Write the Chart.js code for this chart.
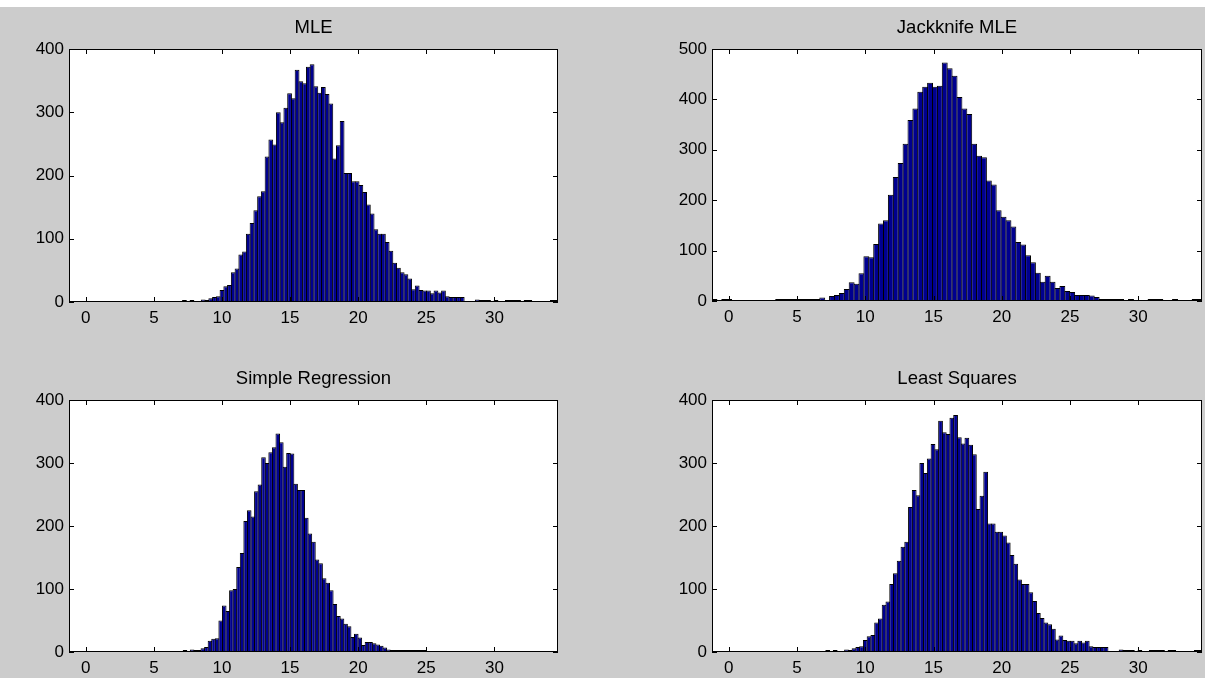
<!DOCTYPE html>
<html><head><meta charset="utf-8">
<script src="https://cdn.jsdelivr.net/npm/chart.js@4.4.0/dist/chart.umd.min.js"></script>
<style>
html,body{margin:0;padding:0;}
body{width:1205px;height:678px;background:#cccccc;position:relative;overflow:hidden;}
#topstrip{position:absolute;left:0;top:0;width:1205px;height:7px;background:#ffffff;}
canvas{position:absolute;}
</style></head><body>
<div id="topstrip"></div>
<canvas id="c1"></canvas><canvas id="c2"></canvas><canvas id="c3"></canvas><canvas id="c4"></canvas>
<script>
// ---------- data ----------
const titles = ["MLE", "Jackknife MLE", "Simple Regression", "Least Squares"];
const xTickLabels = [0, 5, 10, 15, 20, 25, 30];
const yTickLabelsA = [0, 100, 200, 300, 400];
const yTickLabelsB = [0, 100, 200, 300, 400, 500];
const xRange = [-1.23, 34.67];

// MLE: 100 bins
const mleBinStart = 7.108, mleBinWidth = 0.2756;
const mleCounts = [1,0,3,0,0,4,2,6,8,9,19,25,27,47,53,75,80,108,125,145,167,175,230,257,249,300,284,307,330,322,367,349,346,372,376,341,331,340,329,314,227,248,286,204,204,191,191,185,174,154,140,115,108,108,95,81,62,54,47,44,37,20,26,19,18,18,14,18,15,18,9,8,8,8,8,0,0,0,4,1,1,1,0,1,0,0,1,1,1,1,0,1,1,0,0,0,0,0,2,2];

// Jackknife MLE: 100 bins
const jackBinStart = -1.23, jackBinWidth = 0.359;
const jackCounts = [2,0,1,1,0,0,0,0,0,0,0,0,0,1,2,1,2,1,2,1,1,4,7,0,10,12,16,24,37,34,55,89,87,113,154,160,211,246,274,312,359,382,415,425,433,425,427,473,462,447,405,382,371,312,288,285,239,231,180,167,160,148,117,112,91,77,56,38,50,38,26,30,20,18,12,12,12,11,8,3,3,3,3,3,0,1,0,0,0,1,1,1,0,0,1,0,0,0,1,1];

// Simple Regression: 100 bins
const regBinStart = -1.23, regBinWidth = 0.262;
const regCounts = [0,0,0,0,0,0,0,0,0,0,0,0,0,0,0,0,0,0,0,0,0,0,0,0,0,0,0,0,0,0,0,0,2,0,4,3,3,6,8,18,21,22,50,74,65,98,100,135,157,208,225,215,255,266,309,300,317,325,347,333,294,316,315,267,257,257,213,188,175,147,141,117,110,98,76,57,53,45,41,24,29,23,11,16,16,14,12,10,7,4,3,2,2,1,1,2,1,1,1,1];

// Least Squares: 100 bins
const lsBinStart = 7.108, lsBinWidth = 0.2756;
const lsCounts = [1,0,3,0,0,4,2,6,8,9,19,25,27,47,53,75,80,108,125,145,167,175,230,257,249,300,284,307,330,322,367,349,346,372,376,341,331,340,329,314,227,248,286,204,204,191,191,185,174,154,140,115,108,108,95,81,62,54,47,44,37,20,26,19,18,18,14,18,15,18,9,8,8,8,8,0,0,0,4,1,1,1,0,1,0,0,1,1,1,1,0,1,1,0,0,0,0,0,2,2];

// ---------- layout ----------
const FONT = '"Liberation Sans", Arial, Helvetica, sans-serif';
const TICK_SIZE = 17, TITLE_SIZE = 18.5;
const PAD_L = 60, PAD_R = 4, PAD_T = 45, PAD_B = 26;
const panels = [
  {id:'c1', title:titles[0], start:mleBinStart, width:mleBinWidth, counts:mleCounts, yTicks:yTickLabelsA, box:{x:69, y:49, w:489, h:253}},
  {id:'c2', title:titles[1], start:jackBinStart, width:jackBinWidth, counts:jackCounts, yTicks:yTickLabelsB, box:{x:712, y:49, w:490, h:252}},
  {id:'c3', title:titles[2], start:regBinStart, width:regBinWidth, counts:regCounts, yTicks:yTickLabelsA, box:{x:69, y:400, w:489, h:252}},
  {id:'c4', title:titles[3], start:lsBinStart, width:lsBinWidth, counts:lsCounts, yTicks:yTickLabelsA, box:{x:712, y:400, w:490, h:252}}
];

const axesPlugin = {
  id: 'matlabAxes',
  beforeDatasetsDraw(chart) {
    const {ctx, chartArea: a} = chart;
    ctx.save();
    ctx.fillStyle = '#ffffff';
    ctx.fillRect(a.left, a.top, a.right - a.left, a.bottom - a.top);
    ctx.restore();
  },
  afterDatasetsDraw(chart) {
    const {ctx, chartArea: a, scales} = chart;
    const x = scales.x, y = scales.y;
    ctx.save();
    ctx.strokeStyle = '#000000';
    ctx.lineWidth = 1;
    ctx.beginPath();
    x.ticks.forEach(t => {
      const px = Math.round(x.getPixelForValue(t.value)) + 0.5;
      ctx.moveTo(px, a.bottom); ctx.lineTo(px, a.bottom - 5);
      ctx.moveTo(px, a.top); ctx.lineTo(px, a.top + 5);
    });
    y.ticks.forEach(t => {
      const py = Math.round(y.getPixelForValue(t.value)) + 0.5;
      ctx.moveTo(a.left, py); ctx.lineTo(a.left + 5, py);
      ctx.moveTo(a.right, py); ctx.lineTo(a.right - 5, py);
    });
    ctx.stroke();
    ctx.strokeRect(a.left + 0.5, a.top + 0.5, a.right - a.left - 1, a.bottom - a.top - 1);
    ctx.restore();
  }
};

panels.forEach(p => {
  const cv = document.getElementById(p.id);
  const W = p.box.w + PAD_L + PAD_R, H = p.box.h + PAD_T + PAD_B;
  cv.width = W; cv.height = H;
  cv.style.left = (p.box.x - PAD_L) + 'px';
  cv.style.top = (p.box.y - PAD_T) + 'px';
  cv.style.width = W + 'px'; cv.style.height = H + 'px';
  // empty bins are left out so that only occupied bins are drawn
  const pts = p.counts.map((c, i) => ({x: p.start + (i + 0.5) * p.width, y: c === 0 ? null : c}));
  const binPx = p.box.w * p.width / (xRange[1] - xRange[0]);
  const yMax = p.yTicks[p.yTicks.length - 1];
  new Chart(cv, {
    type: 'bar',
    data: { datasets: [{
      data: pts,
      backgroundColor: 'rgb(0,0,143)',
      borderColor: '#000000',
      borderWidth: 1,
      borderSkipped: 'start',
      minBarLength: 2,
      barPercentage: (binPx + 1) / binPx,
      categoryPercentage: 1
    }]},
    options: {
      responsive: false, animation: false, devicePixelRatio: 1,
      layout: {padding: {left: 0, right: PAD_R, top: 0, bottom: 0}},
      plugins: {
        legend: {display: false}, tooltip: {enabled: false},
        title: {display: true, text: p.title, fullSize: false, color: '#000',
          font: {family: FONT, size: TITLE_SIZE, weight: 'normal', lineHeight: 1.2},
          padding: {top: 12.4, bottom: 10.4}}
      },
      scales: {
        x: {type: 'linear', min: xRange[0], max: xRange[1], offset: false,
          afterFit(s) { s.height = PAD_B; },
          afterBuildTicks(s) { s.ticks = xTickLabels.map(v => ({value: v})); },
          grid: {display: false, drawTicks: false, offset: false}, border: {display: false},
          ticks: {color: '#000', font: {family: FONT, size: TICK_SIZE}, padding: 6, maxRotation: 0, autoSkip: false}},
        y: {type: 'linear', min: 0, max: yMax,
          afterFit(s) { s.width = PAD_L; },
          afterBuildTicks(s) { s.ticks = p.yTicks.map(v => ({value: v})); },
          grid: {display: false, drawTicks: false}, border: {display: false},
          ticks: {color: '#000', font: {family: FONT, size: TICK_SIZE}, padding: 5, autoSkip: false}}
      }
    },
    plugins: [axesPlugin]
  });
});
</script>
</body></html>
